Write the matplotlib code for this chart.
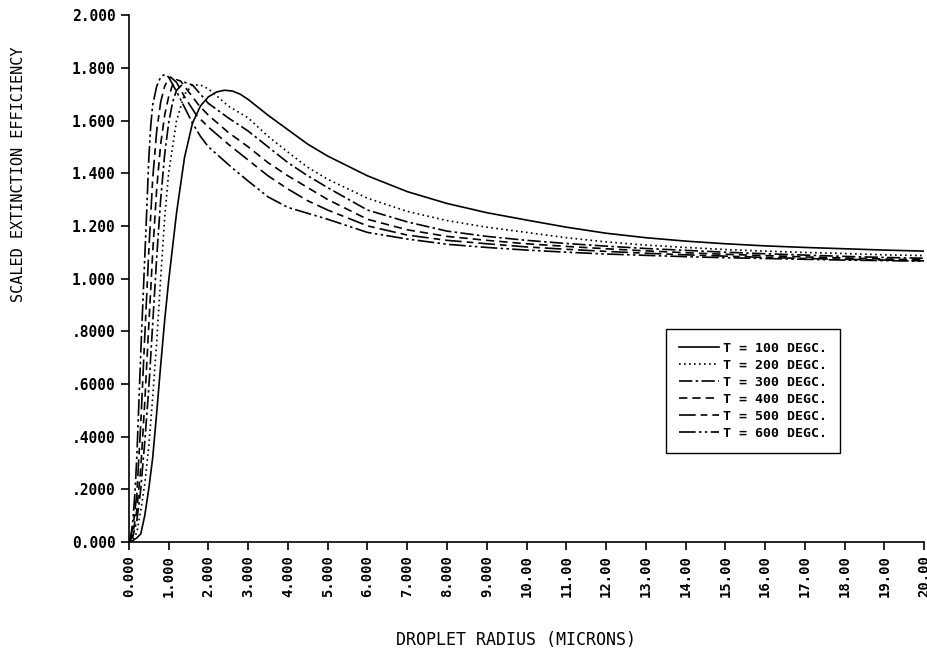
import matplotlib
matplotlib.use("Agg")
import matplotlib.pyplot as plt

# droplet radius (microns) and scaled extinction efficiency
r_100 = [0.0, 0.1, 0.2, 0.3, 0.4, 0.5, 0.6, 0.7, 0.8, 0.9, 1.0, 1.2, 1.4, 1.6, 1.8,
         2.0, 2.2, 2.4, 2.6, 2.8, 3.0, 3.5, 4.0, 4.5, 5.0, 6.0, 7.0, 8.0, 9.0, 10.0,
         11.0, 12.0, 13.0, 14.0, 15.0, 16.0, 17.0, 18.0, 19.0, 20.0]
q_100 = [0.0, 0.005, 0.015, 0.03, 0.10, 0.20, 0.32, 0.49, 0.67, 0.84, 0.99, 1.25, 1.46,
         1.59, 1.655, 1.69, 1.708, 1.715, 1.712, 1.70, 1.68, 1.62, 1.565, 1.51, 1.465,
         1.39, 1.33, 1.285, 1.25, 1.222, 1.195, 1.172, 1.155, 1.142, 1.132, 1.124,
         1.118, 1.113, 1.108, 1.104]

r_200 = [0.0, 0.1, 0.2, 0.3, 0.4, 0.5, 0.6, 0.7, 0.8, 0.9, 1.0, 1.2, 1.4, 1.6, 1.8,
         2.0, 2.2, 2.5, 3.0, 3.5, 4.0, 4.5, 5.0, 6.0, 7.0, 8.0, 9.0, 10.0, 11.0, 12.0,
         13.0, 14.0, 15.0, 16.0, 17.0, 18.0, 19.0, 20.0]
q_200 = [0.0, 0.01, 0.035, 0.12, 0.22, 0.36, 0.55, 0.76, 1.0, 1.23, 1.40, 1.60, 1.70,
         1.735, 1.735, 1.72, 1.695, 1.655, 1.61, 1.54, 1.48, 1.422, 1.377, 1.305,
         1.255, 1.22, 1.195, 1.175, 1.155, 1.139, 1.127, 1.118, 1.11, 1.104, 1.099,
         1.095, 1.09, 1.087]

r_300 = [0.0, 0.1, 0.2, 0.3, 0.4, 0.5, 0.6, 0.7, 0.8, 0.9, 1.0, 1.1, 1.2, 1.4, 1.6,
         1.8, 2.0, 2.5, 3.0, 3.5, 4.0, 4.5, 5.0, 6.0, 7.0, 8.0, 9.0, 10.0, 11.0, 12.0,
         13.0, 14.0, 15.0, 16.0, 17.0, 18.0, 19.0, 20.0]
q_300 = [0.0, 0.02, 0.08, 0.2, 0.38, 0.58, 0.83, 1.08, 1.30, 1.47, 1.59, 1.67, 1.715,
         1.745, 1.735, 1.70, 1.665, 1.61, 1.56, 1.50, 1.44, 1.39, 1.345, 1.26, 1.215,
         1.18, 1.16, 1.145, 1.133, 1.123, 1.114, 1.107, 1.10, 1.094, 1.089, 1.084,
         1.08, 1.077]

r_400 = [0.0, 0.1, 0.2, 0.3, 0.4, 0.5, 0.6, 0.7, 0.8, 0.9, 1.0, 1.1, 1.2, 1.3, 1.5,
         1.75, 2.0, 2.5, 3.0, 3.5, 4.0, 4.5, 5.0, 6.0, 7.0, 8.0, 9.0, 10.0, 11.0, 12.0,
         13.0, 14.0, 15.0, 16.0, 17.0, 18.0, 19.0, 20.0]
q_400 = [0.0, 0.03, 0.12, 0.28, 0.53, 0.82, 1.10, 1.34, 1.51, 1.62, 1.69, 1.735, 1.755,
         1.75, 1.71, 1.66, 1.62, 1.555, 1.50, 1.44, 1.39, 1.345, 1.30, 1.225, 1.185,
         1.16, 1.145, 1.132, 1.122, 1.113, 1.105, 1.098, 1.092, 1.087, 1.082, 1.078,
         1.074, 1.071]

r_500 = [0.0, 0.1, 0.2, 0.3, 0.4, 0.5, 0.6, 0.7, 0.8, 0.9, 1.0, 1.05, 1.2, 1.4, 1.7,
         2.0, 2.5, 3.0, 3.5, 4.0, 4.5, 5.0, 6.0, 7.0, 8.0, 9.0, 10.0, 11.0, 12.0, 13.0,
         14.0, 15.0, 16.0, 17.0, 18.0, 19.0, 20.0]
q_500 = [0.0, 0.05, 0.18, 0.45, 0.78, 1.10, 1.38, 1.56, 1.67, 1.73, 1.76, 1.765, 1.745,
         1.69, 1.62, 1.575, 1.51, 1.45, 1.39, 1.34, 1.295, 1.26, 1.20, 1.165, 1.145,
         1.132, 1.12, 1.111, 1.103, 1.096, 1.09, 1.085, 1.08, 1.076, 1.073, 1.07, 1.067]

r_600 = [0.0, 0.05, 0.1, 0.15, 0.2, 0.25, 0.3, 0.35, 0.4, 0.45, 0.5, 0.55, 0.6, 0.7,
         0.8, 0.9, 1.0, 1.2, 1.4, 1.6, 1.8, 2.0, 2.3, 2.6, 3.0, 3.5, 4.0, 5.0, 6.0, 7.0,
         8.0, 9.0, 10.0, 11.0, 12.0, 13.0, 14.0, 15.0, 16.0, 17.0, 18.0, 19.0, 20.0]
q_600 = [0.0, 0.02, 0.08, 0.18, 0.32, 0.52, 0.72, 0.90, 1.08, 1.26, 1.45, 1.58, 1.66,
         1.73, 1.765, 1.775, 1.765, 1.71, 1.65, 1.59, 1.54, 1.50, 1.46, 1.42, 1.37,
         1.31, 1.27, 1.225, 1.175, 1.15, 1.13, 1.118, 1.108, 1.10, 1.093, 1.088,
         1.083, 1.079, 1.076, 1.073, 1.07, 1.068, 1.066]

labels = ["T = 100 DEGC.", "T = 200 DEGC.", "T = 300 DEGC.",
          "T = 400 DEGC.", "T = 500 DEGC.", "T = 600 DEGC."]

x_ticks = list(range(0, 21))
x_ticklabels = ["0.000", "1.000", "2.000", "3.000", "4.000", "5.000", "6.000",
                "7.000", "8.000", "9.000", "10.00", "11.00", "12.00", "13.00",
                "14.00", "15.00", "16.00", "17.00", "18.00", "19.00", "20.00"]
y_ticks = [0.0, 0.2, 0.4, 0.6, 0.8, 1.0, 1.2, 1.4, 1.6, 1.8, 2.0]
y_ticklabels = ["0.000", ".2000", ".4000", ".6000", ".8000", "1.000",
                "1.200", "1.400", "1.600", "1.800", "2.000"]

styles = ["-", (0, (1, 2)), (0, (8, 2, 1.5, 2)), (0, (5, 3)),
          (0, (10, 3, 4, 3)), (0, (10, 2, 1.5, 2, 1.5, 2))]

plt.rcParams["font.family"] = ["DejaVu Sans Mono"]

fig = plt.figure(figsize=(9.27, 6.60), dpi=100)
ax = fig.add_axes([0.139, 0.179, 0.858, 0.798])

series = [(r_100, q_100), (r_200, q_200), (r_300, q_300),
          (r_400, q_400), (r_500, q_500), (r_600, q_600)]
for (r, q), ls, lab in zip(series, styles, labels):
    ax.plot(r, q, color="black", linestyle=ls, linewidth=1.2, label=lab)

ax.set_xlim(0, 20)
ax.set_ylim(0, 2.0)
ax.set_xticks(x_ticks)
ax.set_xticklabels(x_ticklabels, rotation=90, fontsize=10, fontweight="bold")
ax.set_yticks(y_ticks)
ax.set_yticklabels(y_ticklabels, fontsize=10.5, fontweight="bold")
ax.tick_params(direction="out", length=6, width=1.2, color="black")
ax.spines["top"].set_visible(False)
ax.spines["right"].set_visible(False)
ax.spines["left"].set_linewidth(1.2)
ax.spines["bottom"].set_linewidth(1.2)

fig.text(0.557, 0.030, "DROPLET RADIUS (MICRONS)", ha="center", va="center",
         fontsize=12)
fig.text(0.020, 0.736, "SCALED EXTINCTION EFFICIENCY", ha="center", va="center",
         rotation=90, fontsize=11)

leg = ax.legend(loc="upper right", bbox_to_anchor=(0.906, 0.502),
                bbox_transform=fig.transFigure, borderaxespad=0,
                fancybox=False, framealpha=1, edgecolor="black",
                prop={"family": "DejaVu Sans Mono", "size": 9.5, "weight": "bold"},
                handlelength=3.0, handletextpad=0.3, labelspacing=0.3,
                borderpad=1.0)
leg.get_frame().set_linewidth(1.0)

fig.savefig("out.png", dpi=100)
